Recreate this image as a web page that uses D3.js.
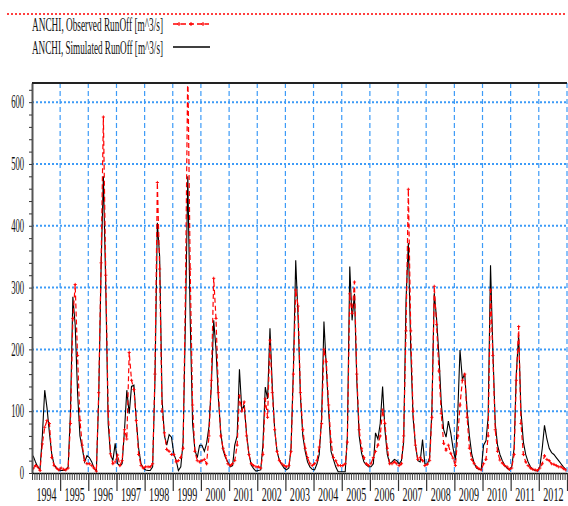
<!DOCTYPE html>
<html>
<head>
<meta charset="utf-8">
<script src="https://cdn.jsdelivr.net/npm/d3@7"></script>
<style>
  body { margin: 0; background: #fff; }
  svg { display: block; }
</style>
</head>
<body>
<div id="chart"></div>
<script>
var years = d3.range(1994, 2013);
var yTicks = [0, 100, 200, 300, 400, 500, 600];
var seriesNames = ['ANCHI, Observed RunOff [m^3/s]', 'ANCHI, Simulated RunOff [m^3/s]'];

// monthly values, one row per year (Jan..Dec)
var observed = [
  7, 12, 10, 4, 47, 74, 85, 80, 25, 12, 8, 5,
  8, 6, 5, 8, 80, 250, 305, 190, 85, 45, 20, 15,
  15, 12, 8, 3, 130, 340, 576, 320, 100, 31, 15, 18,
  29, 12, 20, 70, 55, 195, 150, 135, 85, 30, 12, 8,
  10, 10, 10, 15, 160, 470, 330, 100, 65, 38, 35, 30,
  30, 18, 20, 25, 40, 300, 660, 330, 110, 35, 20, 18,
  20, 22, 15, 60, 150, 315, 250, 130, 60, 40, 28, 15,
  12, 15, 20, 45, 125, 100, 115, 60, 30, 15, 12, 10,
  10, 8, 30, 120, 90, 215, 130, 70, 35, 20, 15, 12,
  10, 12, 35, 160, 296, 270, 130, 70, 40, 25, 15, 12,
  15, 20, 42, 80, 200, 180, 110, 50, 25, 20, 12, 12,
  12, 15, 50, 290, 258, 309, 160, 70, 40, 25, 15, 12,
  15, 25, 35, 45, 60, 102, 80, 40, 15, 15, 18, 15,
  12, 15, 60, 230, 459, 230, 100, 45, 22, 25, 20, 12,
  14, 20, 90, 302, 240, 165, 96, 48, 37, 45, 32, 24,
  12, 60, 110, 150, 160, 90, 40, 22, 15, 10, 7, 5,
  15, 22, 60, 296, 190, 70, 35, 21, 16, 12, 10, 6,
  8, 30, 150, 237, 80, 30, 18, 12, 8, 6, 5, 4,
  8, 15, 28, 22, 20, 15, 14, 12, 10, 10, 7, 5
];

var simulated = [
  28, 18, 10, 6, 60, 134, 105, 65, 30, 13, 8, 5,
  4, 4, 5, 10, 100, 285, 240, 130, 60, 40, 18, 28,
  25, 18, 8, 3, 120, 330, 480, 300, 80, 30, 20, 48,
  15, 12, 15, 70, 134, 96, 140, 142, 85, 40, 15, 8,
  5, 4, 4, 10, 150, 405, 350, 120, 60, 45, 62, 58,
  31, 20, 4, 10, 50, 250, 480, 250, 80, 37, 25, 45,
  45, 35, 48, 75, 140, 247, 200, 120, 65, 37, 25, 18,
  10, 12, 45, 60, 168, 101, 110, 64, 31, 13, 7, 3,
  4, 5, 45, 139, 120, 234, 140, 70, 35, 20, 14, 8,
  5, 8, 40, 170, 344, 250, 124, 60, 35, 18, 10, 6,
  5, 15, 30, 90, 245, 170, 100, 35, 22, 10, 2, 2,
  2, 2, 60, 334, 247, 290, 150, 60, 32, 18, 13, 10,
  10, 15, 65, 55, 80, 140, 70, 30, 15, 18, 22, 20,
  15, 20, 50, 280, 372, 200, 90, 45, 20, 18, 54, 15,
  14, 25, 100, 291, 250, 190, 113, 70, 58, 84, 65, 40,
  21, 100, 199, 151, 161, 102, 60, 30, 16, 8, 6, 5,
  45, 52, 90, 336, 200, 80, 45, 30, 20, 13, 8, 5,
  10, 40, 160, 223, 100, 50, 30, 18, 10, 6, 4, 3,
  10, 40, 77, 55, 40, 33, 30, 25, 20, 15, 10, 6
];

var dates = observed.map(function(d, i) {
  return new Date(years[0] + Math.floor(i / 12), i % 12, 15);
});

var red = '#ff0000';
var gridBlue = '#3d9bf7';
var serif = '"Liberation Serif", "Times New Roman", serif';

var fullWidth = 568, fullHeight = 506;
var plot = {left: 32, right: 567, top: 83, bottom: 473};

var svg = d3.select('#chart').append('svg')
  .attr('width', fullWidth)
  .attr('height', fullHeight)
  .style('background', '#fff');

var x = d3.scaleTime()
  .domain([new Date(1994, 0, 1), new Date(2013, 0, 1)])
  .range([plot.left, plot.right]);

var y = d3.scaleLinear()
  .domain([0, 631])
  .range([plot.bottom, plot.top]);

// grid
var gridG = svg.append('g').attr('class', 'grid');
gridG.selectAll('line.h').data(yTicks.slice(1)).enter()
  .append('line')
  .attr('x1', plot.left).attr('x2', plot.right)
  .attr('y1', function(d) { return y(d); })
  .attr('y2', function(d) { return y(d); })
  .attr('stroke', gridBlue)
  .attr('stroke-width', 2)
  .attr('stroke-dasharray', '2,2');

var yearStarts = years.slice(1).concat([2013]).map(function(yr) { return new Date(yr, 0, 1); });
gridG.selectAll('line.v').data(yearStarts).enter()
  .append('line')
  .attr('x1', function(d) { return x(d); })
  .attr('x2', function(d) { return x(d); })
  .attr('y1', plot.top).attr('y2', plot.bottom)
  .attr('stroke', gridBlue)
  .attr('stroke-width', 1.2)
  .attr('stroke-dasharray', '5,3');

// clip
svg.append('clipPath').attr('id', 'clip')
  .append('rect')
  .attr('x', plot.left).attr('y', plot.top)
  .attr('width', plot.right - plot.left)
  .attr('height', plot.bottom - plot.top);

var line = d3.line()
  .x(function(d, i) { return x(dates[i]); })
  .y(function(d) { return y(d); });

var lines = svg.append('g').attr('clip-path', 'url(#clip)');

lines.append('path')
  .datum(simulated)
  .attr('d', line)
  .attr('fill', 'none')
  .attr('stroke', '#000')
  .attr('stroke-width', 1.1);

lines.append('path')
  .datum(observed)
  .attr('d', line)
  .attr('fill', 'none')
  .attr('stroke', red)
  .attr('stroke-width', 1.2)
  .attr('stroke-dasharray', '5,3');

// plus markers on observed
var plus = function(px, py, s) {
  return 'M' + (px - s) + ',' + py + 'H' + (px + s) + 'M' + px + ',' + (py - s) + 'V' + (py + s);
};
lines.append('path')
  .attr('d', observed.map(function(d, i) { return plus(x(dates[i]), y(d), 1.6); }).join(''))
  .attr('stroke', red)
  .attr('stroke-width', 0.9)
  .attr('fill', 'none');

// axes
var yAxis = d3.axisLeft(y)
  .tickValues(d3.range(0, 621, 20))
  .tickSize(3)
  .tickSizeOuter(0)
  .tickFormat(function(d) { return d % 100 === 0 ? d : ''; });

var yAxisEle = svg.append('g')
  .attr('transform', 'translate(' + plot.left + ',0)')
  .call(yAxis);
yAxisEle.select('.domain').attr('stroke', '#555').attr('stroke-width', 2);
yAxisEle.selectAll('line').attr('stroke', '#333');
yAxisEle.selectAll('text')
  .style('font-family', serif)
  .style('font-size', '18px')
  .attr('fill', '#111')
  .attr('x', -16.5)
  .attr('transform', 'scale(0.48,1)');

var xMinor = d3.axisBottom(x)
  .ticks(d3.timeMonth.every(1))
  .tickSize(7)
  .tickSizeOuter(0)
  .tickFormat('');
var xMinorEle = svg.append('g')
  .attr('transform', 'translate(0,' + plot.bottom + ')')
  .call(xMinor);
xMinorEle.select('.domain').attr('stroke', '#000').attr('stroke-width', 1.6);
xMinorEle.selectAll('line').attr('stroke', '#444');

var xMajor = d3.axisBottom(x)
  .tickValues(yearStarts)
  .tickSize(18)
  .tickSizeOuter(0)
  .tickFormat('');
var xMajorEle = svg.append('g')
  .attr('transform', 'translate(0,' + plot.bottom + ')')
  .call(xMajor);
xMajorEle.select('.domain').remove();
xMajorEle.selectAll('line').attr('stroke', '#333').attr('stroke-width', 1.2);

var xLabels = d3.axisBottom(x)
  .tickValues(years.map(function(yr) { return new Date(yr, 6, 2); }))
  .tickSize(0)
  .tickFormat(d3.timeFormat('%Y'));
var xLabelEle = svg.append('g')
  .attr('transform', 'translate(0,' + plot.bottom + ')')
  .call(xLabels);
xLabelEle.select('.domain').remove();
xLabelEle.selectAll('text')
  .attr('y', 28)
  .attr('dy', 0)
  .style('font-family', serif)
  .style('font-size', '19px')
  .attr('fill', '#111')
  .attr('transform', 'scale(0.53,1)');

// top frame line
svg.append('line')
  .attr('x1', plot.left).attr('x2', plot.right)
  .attr('y1', plot.top).attr('y2', plot.top)
  .attr('stroke', '#222')
  .attr('stroke-width', 2);

// legend
var legend = svg.append('g').attr('class', 'legend');

legend.append('line')
  .attr('x1', 7).attr('x2', 566)
  .attr('y1', 14).attr('y2', 14)
  .attr('stroke', red)
  .attr('stroke-width', 1.5)
  .attr('stroke-dasharray', '2,2');

legend.selectAll('text').data(seriesNames).enter()
  .append('text')
  .attr('x', 32)
  .attr('y', function(d, i) { return 31 + i * 23; })
  .style('font-family', serif)
  .style('font-size', '18px')
  .attr('fill', '#111')
  .attr('textLength', 131)
  .attr('lengthAdjust', 'spacingAndGlyphs')
  .text(function(d) { return d; });

legend.append('line')
  .attr('x1', 173).attr('x2', 209)
  .attr('y1', 24).attr('y2', 24)
  .attr('stroke', red)
  .attr('stroke-width', 1.3)
  .attr('stroke-dasharray', '5,3');
legend.append('path')
  .attr('d', [179, 191, 203].map(function(px) { return plus(px, 24, 2); }).join(''))
  .attr('stroke', red)
  .attr('stroke-width', 1);

legend.append('line')
  .attr('x1', 173).attr('x2', 210)
  .attr('y1', 47).attr('y2', 47)
  .attr('stroke', '#000')
  .attr('stroke-width', 1.5);
</script>
</body>
</html>
